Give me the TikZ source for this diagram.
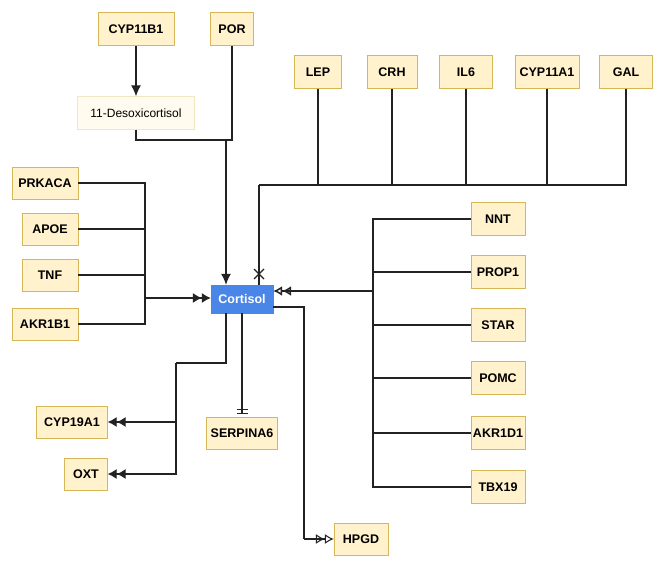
\documentclass[tikz,border=0pt]{standalone}
\usepackage{fontspec}
\setmainfont{Liberation Sans}
\usetikzlibrary{arrows.meta}
\definecolor{genefill}{HTML}{FFF2CC}
\definecolor{genedraw}{HTML}{D6B656}
\definecolor{palefill}{HTML}{FFFBEE}
\definecolor{paledraw}{HTML}{F3E6C4}
\definecolor{cortblue}{HTML}{4A86E8}
\definecolor{wire}{HTML}{222222}

\begin{document}
\begin{tikzpicture}[x=1pt,y=-1pt,
  gene/.style={draw=genedraw,fill=genefill,inner sep=0pt,minimum height=33pt,font=\fontsize{12.5}{14}\selectfont\bfseries},
  pale/.style={draw=paledraw,fill=palefill,inner sep=0pt,minimum height=33pt,font=\fontsize{12}{14}\selectfont},
  hub/.style={draw=cortblue,fill=cortblue,text=white,inner sep=0pt,minimum width=62pt,minimum height=28pt,font=\fontsize{12.5}{14}\selectfont\bfseries},
  wireline/.style={draw=wire,line width=1.1pt},
  tip/.style={wireline,-{Latex[length=11pt,width=10pt]}},
  dbltip/.style={wireline,-{Latex[length=9pt,width=10pt]Latex[length=9pt,width=10pt]}},
  dblopen/.style={wireline,-{Latex[open,length=9pt,width=10pt]Latex[open,length=9pt,width=10pt]}},
  dblbar/.style={wireline,-{Bar[width=11pt,sep=3pt]Bar[width=11pt]},shorten >=3pt}]
\useasboundingbox (0,0) rectangle (656,561);

\node[gene,minimum width=76pt] (cyp11b1) at (136,29) {CYP11B1};
\node[gene,minimum width=43pt] (por) at (232,29) {POR};
\node[pale,minimum width=117pt] (deso) at (136,113) {11-Desoxicortisol};

\node[gene,minimum width=47pt] (lep) at (318,72) {LEP};
\node[gene,minimum width=50pt] (crh) at (392,72) {CRH};
\node[gene,minimum width=53pt] (il6) at (466,72) {IL6};
\node[gene,minimum width=64pt] (cyp11a1) at (547,72) {CYP11A1};
\node[gene,minimum width=53pt] (gal) at (626,72) {GAL};

\node[gene,minimum width=66pt,minimum height=32pt] (prkaca) at (45,183) {PRKACA};
\node[gene,minimum width=56pt,minimum height=32pt] (apoe) at (50,229) {APOE};
\node[gene,minimum width=56pt,minimum height=32pt] (tnf) at (50,275) {TNF};
\node[gene,minimum width=66pt,minimum height=32pt] (akr1b1) at (45,324) {AKR1B1};

\node[hub] (cort) at (242,299) {Cortisol};

\node[gene,minimum width=54pt] (nnt) at (498,219) {NNT};
\node[gene,minimum width=54pt] (prop1) at (498,272) {PROP1};
\node[gene,minimum width=54pt] (star) at (498,325) {STAR};
\node[gene,minimum width=54pt] (pomc) at (498,378) {POMC};
\node[gene,minimum width=54pt] (akr1d1) at (498,433) {AKR1D1};
\node[gene,minimum width=54pt] (tbx19) at (498,487) {TBX19};

\node[gene,minimum width=71pt,minimum height=32pt] (cyp19a1) at (72,422) {CYP19A1};
\node[gene,minimum width=43pt,minimum height=32pt] (oxt) at (86,474) {OXT};
\node[gene,minimum width=71pt,minimum height=32pt] (serpina6) at (242,433) {SERPINA6};
\node[gene,minimum width=54pt,minimum height=32pt] (hpgd) at (361,539) {HPGD};

\coordinate (jdeso) at (226,140);
\coordinate (jtop) at (259,185);
\coordinate (jleft) at (145,298);
\coordinate (jright) at (373,291);
\coordinate (jdown) at (176,363);
\coordinate (jhpgd) at (304,539);
\coordinate (xmark) at (259,274);

\draw[tip] (cyp11b1) -- (deso);
\draw[wireline] (deso.south) |- (jdeso);
\draw[wireline] (por.south) |- (jdeso);
\draw[tip] (jdeso) -- (cort.north -| jdeso);

\foreach \n in {lep,crh,il6,cyp11a1,gal}
  \draw[wireline] (\n.south) |- (jtop);
\draw[wireline,line width=1.5pt] (jtop) -- (cort.north -| jtop);
\draw[wireline,line width=1.4pt] ([shift={(-5,-5)}]xmark) -- ([shift={(5,5)}]xmark)
                ([shift={(-5,5)}]xmark) -- ([shift={(5,-5)}]xmark);

\foreach \n in {prkaca,apoe,tnf,akr1b1}
  \draw[wireline] (\n.east) -| (jleft);
\draw[dbltip] (jleft) -- (cort.west |- jleft);

\foreach \n in {nnt,prop1,star,pomc,akr1d1,tbx19}
  \draw[wireline] (\n.west) -| (jright);
\draw[dblopen,line width=1.5pt] (jright) -- (cort.east |- jright);

\draw[wireline] (cort.south -| jdeso) |- (jdown);
\draw[dbltip] (jdown) |- (cyp19a1.east);
\draw[dbltip] (jdown) |- (oxt.east);

\draw[dblbar] (cort.south) -- (serpina6.north);

\draw[wireline] ([yshift=-8pt]cort.east) -| (jhpgd);
\draw[dblopen] (jhpgd) -- (hpgd.west);
\end{tikzpicture}
\end{document}
